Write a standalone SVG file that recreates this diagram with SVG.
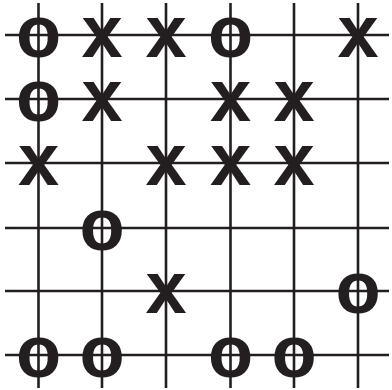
<svg xmlns="http://www.w3.org/2000/svg" width="392" height="390" viewBox="0 0 392 390">
<style>
.g line{stroke:#231f20;stroke-width:2.6}
.m{font-family:"Liberation Sans",Arial,sans-serif;font-weight:bold;font-size:74px;fill:#231f20;text-anchor:middle}
</style>
<rect width="392" height="390" fill="#fff"/>
<g id="grid" class="g">
<line x1="38.5" y1="3" x2="38.5" y2="388"/>
<line x1="102" y1="3" x2="102" y2="388"/>
<line x1="166" y1="3" x2="166" y2="388"/>
<line x1="230.5" y1="3" x2="230.5" y2="388"/>
<line x1="294" y1="3" x2="294" y2="388"/>
<line x1="358" y1="3" x2="358" y2="388"/>
<line x1="5" y1="35" x2="389" y2="35"/>
<line x1="5" y1="99" x2="389" y2="99"/>
<line x1="5" y1="163" x2="389" y2="163"/>
<line x1="5" y1="228" x2="389" y2="228"/>
<line x1="5" y1="291" x2="389" y2="291"/>
<line x1="5" y1="355" x2="389" y2="355"/>
</g>
<g id="r0c0"><text class="m" x="38.5" y="57">o</text></g>
<g id="r0c1"><text class="m" x="102" y="57">x</text></g>
<g id="r0c2"><text class="m" x="166" y="57">x</text></g>
<g id="r0c3"><text class="m" x="230.5" y="57">o</text></g>
<g id="r0c5"><text class="m" x="358" y="57">x</text></g>
<g id="r1c0"><text class="m" x="38.5" y="121">o</text></g>
<g id="r1c1"><text class="m" x="102" y="121">x</text></g>
<g id="r1c3"><text class="m" x="230.5" y="121">x</text></g>
<g id="r1c4"><text class="m" x="294" y="121">x</text></g>
<g id="r2c0"><text class="m" x="38.5" y="185">x</text></g>
<g id="r2c2"><text class="m" x="166" y="185">x</text></g>
<g id="r2c3"><text class="m" x="230.5" y="185">x</text></g>
<g id="r2c4"><text class="m" x="294" y="185">x</text></g>
<g id="r3c1"><text class="m" x="102" y="250">o</text></g>
<g id="r4c2"><text class="m" x="166" y="313">x</text></g>
<g id="r4c5"><text class="m" x="358" y="313">o</text></g>
<g id="r5c0"><text class="m" x="38.5" y="377">o</text></g>
<g id="r5c1"><text class="m" x="102" y="377">o</text></g>
<g id="r5c3"><text class="m" x="230.5" y="377">o</text></g>
<g id="r5c4"><text class="m" x="294" y="377">o</text></g>
</svg>
